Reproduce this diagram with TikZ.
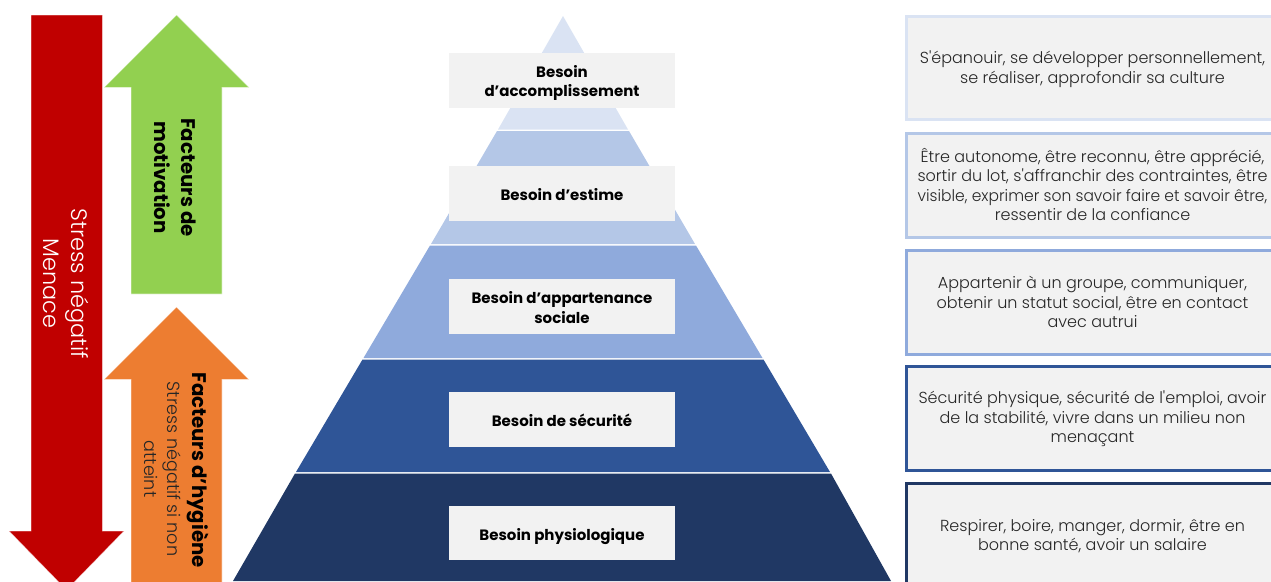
\documentclass[tikz,border=0pt]{standalone}
\usepackage{fontspec}
\setmainfont{Poppins}
\newfontfamily\plight{Poppins Light}
\definecolor{lvla}{HTML}{DAE3F3}
\definecolor{lvlb}{HTML}{B4C7E7}
\definecolor{lvlc}{HTML}{8FAADC}
\definecolor{lvld}{HTML}{2F5597}
\definecolor{lvle}{HTML}{203864}
\definecolor{boxgrey}{HTML}{F2F2F2}
\definecolor{redarrow}{HTML}{C00000}
\definecolor{greenarrow}{HTML}{92D050}
\definecolor{orangearrow}{HTML}{ED7D31}
\definecolor{inktext}{HTML}{262626}
\tikzset{
  labelbox/.style={fill=boxgrey,minimum width=226pt,inner sep=0pt,align=center,text=black,
    font=\fontsize{15}{19}\selectfont\bfseries},
  detailtext/.style={align=center,text=inktext,inner sep=0pt,
    font=\plight\fontsize{16}{19.5}\selectfont},
  detailbox/.style={fill=boxgrey,line width=3pt},
  arrowshape/.style={draw=white,draw opacity=.6,line width=.6pt},
  sidebold/.style={rotate=-90,align=center,inner sep=0pt,text=black,
    font=\fontsize{19.7}{27}\selectfont\bfseries},
  sidelight/.style={rotate=-90,align=center,inner sep=0pt,
    font=\plight\fontsize{17.6}{23}\selectfont},
}
\begin{document}
\begin{tikzpicture}[x=1pt,y=-1pt]
\useasboundingbox (0,0) rectangle (1271,581);
\clip (0,0) rectangle (1271,581);
% pyramid
\fill[lvla] (563,16) -- (628,129.5) -- (498,129.5) -- cycle;
\fill[lvlb] (497,131) -- (629,131) -- (695,244) -- (431,244) -- cycle;
\fill[lvlc] (430,245.5) -- (696,245.5) -- (762.5,358) -- (363.5,358) -- cycle;
\fill[lvld] (362.5,359.5) -- (763.5,359.5) -- (830,472) -- (296,472) -- cycle;
\fill[lvle] (295,473.5) -- (831,473.5) -- (891,581) -- (233,581) -- cycle;
% pyramid labels
\node[labelbox,minimum height=55pt] (acc) at (562,80.5) {\raisebox{-15.5pt}[0pt][0pt]{\shortstack{Besoin\\[3pt]d'accomplissement}}};
\node[labelbox,minimum height=55pt] (est) at (562,193.5) {\raisebox{-7pt}[0pt][0pt]{Besoin d'estime}};
\node[labelbox,minimum height=55pt] (app) at (562,306.5) {\raisebox{-16.5pt}[0pt][0pt]{\shortstack{Besoin d'appartenance\\[1pt]sociale}}};
\node[labelbox,minimum height=55pt] (sec) at (562,419.5) {\raisebox{-7pt}[0pt][0pt]{Besoin de sécurité}};
\node[labelbox,minimum height=54pt] (phy) at (562,533) {\raisebox{-7pt}[0pt][0pt]{Besoin physiologique}};
% detail boxes
\draw[detailbox,draw=lvla] (906.5,16.5) rectangle (1275,119);
\draw[detailbox,draw=lvlb] (906.5,133) rectangle (1275,237);
\draw[detailbox,draw=lvlc] (906.5,250) rectangle (1275,354);
\draw[detailbox,draw=lvld] (906.5,366.5) rectangle (1275,470.5);
\draw[detailbox,draw=lvle] (906.5,483.5) rectangle (1275,590);
\node[detailtext] (ta) at (1092.5,69) {S'épanouir, se développer personnellement,\\se réaliser, approfondir sa culture};
\node[detailtext] (tb) at (1092.5,184.5) {Être autonome, être reconnu, être apprécié,\\sortir du lot, s'affranchir des contraintes, être\\\scalebox{0.97}[1]{visible, exprimer son savoir faire et savoir être,}\\ressentir de la confiance};
\node[detailtext] (tc) at (1092.5,302) {Appartenir à un groupe, communiquer,\\obtenir un statut social, être en contact\\avec autrui};
\node[detailtext] (td) at (1092.5,419) {Sécurité physique, sécurité de l'emploi, avoir\\de la stabilité, vivre dans un milieu non\\menaçant};
\node[detailtext] (te) at (1092.5,536) {Respirer, boire, manger, dormir, être en\\bonne santé, avoir un salaire};
% arrows
\path[arrowshape,fill=redarrow] (31,15) -- (102.5,15) -- (102.5,531) -- (124,531) -- (66.5,590) -- (9,531) -- (31,531) -- cycle;
\path[arrowshape,fill=greenarrow] (176.5,15) -- (249,87.5) -- (222,87.5) -- (222,294) -- (131,294) -- (131,87.5) -- (104,87.5) -- cycle;
\path[arrowshape,fill=orangearrow] (176.5,307) -- (249,379.5) -- (222,379.5) -- (222,590) -- (131,590) -- (131,379.5) -- (104,379.5) -- cycle;
% arrow texts
\node[sidelight,text=white,font=\plight\fontsize{22.4}{28}\selectfont] (stress) at (66,283.5) {Stress négatif\\Menace};
\node[sidebold] (mot) at (175,177.5) {Facteurs de\\motivation};
\node[sidebold] (hyg) at (198.5,470) {Facteurs d'hygiène};
\node[sidelight,text=inktext] (hygs) at (162.5,469) {Stress négatif si non\\atteint};
\end{tikzpicture}
\end{document}
